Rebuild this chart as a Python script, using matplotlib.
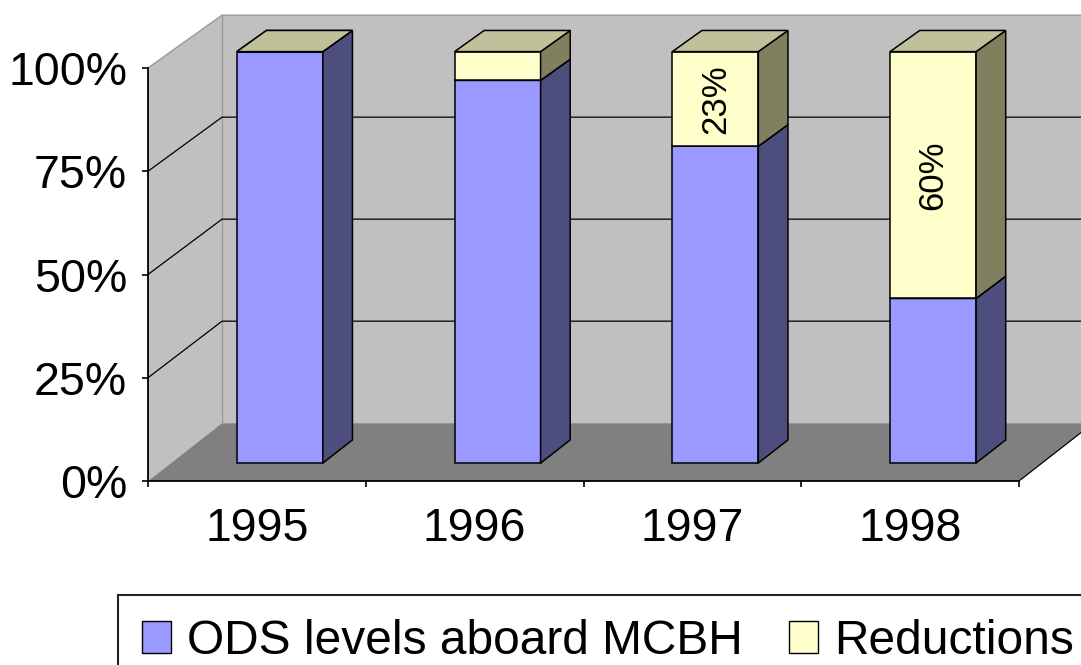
import matplotlib
matplotlib.use("Agg")
import matplotlib.pyplot as plt
from matplotlib.patches import Patch

# ---- data -------------------------------------------------------------
years = ["1995", "1996", "1997", "1998"]
ods_levels = [100, 93, 77, 40]
reductions = [0, 7, 23, 60]
series_names = ["ODS levels aboard MCBH", "Reductions"]
ytick_values = [0, 25, 50, 75, 100]
ytick_labels = ["0%", "25%", "50%", "75%", "100%"]

# ---- styling ----------------------------------------------------------
plt.rcParams["font.family"] = ["Liberation Sans", "DejaVu Sans"]

# (front, side, top) shades for each series
ods_colors = ("#9999FF", "#4D4D7E", "#7A7ACC")
red_colors = ("#FFFFCC", "#80805F", "#C0C09B")
WALL = "#C0C0C0"
FLOOR = "#808080"
WALL_EDGE = "#9A9A9A"

W, H = 1081, 665
fig = plt.figure(figsize=(W / 100, H / 100), dpi=100)
fig.patch.set_facecolor("white")

# front plane of the 3-D box
ax = fig.add_axes([148 / W, (H - 481) / H, (1019 - 148) / W, (481 - 68) / H])
ax.set_xlim(-0.5, 3.5)
ax.set_ylim(0, 100)
ax.patch.set_visible(False)

# oblique projection: depth d in [0, 1] shifts right / up
DX, DY, SHRINK = 0.34, 14.0, 0.012
BAR_W = 0.395
D0, D1 = 0.31, 0.71


def proj(x, v, d):
    return x + d * DX, v * (1 - SHRINK * d) + d * DY


def face(pts, fc, ec="none", lw=0.0, z=1):
    ax.fill([p[0] for p in pts], [p[1] for p in pts], facecolor=fc,
            edgecolor=ec, linewidth=lw, zorder=z, clip_on=False)


def line(pts, color="black", lw=0.9, z=1.5):
    ax.plot([p[0] for p in pts], [p[1] for p in pts], color=color,
            linewidth=lw, zorder=z, clip_on=False, solid_capstyle="butt")


x0, x1 = -0.5, 3.5
ymax = ytick_values[-1]

# walls and floor
face([proj(x0, 0, 0), proj(x0, ymax, 0), proj(x0, ymax, 1), proj(x0, 0, 1)], WALL)
face([proj(x0, 0, 1), proj(x0, ymax, 1), proj(x1, ymax, 1), proj(x1, 0, 1)], WALL)
face([proj(x0, 0, 0), proj(x1, 0, 0), proj(x1, 0, 1), proj(x0, 0, 1)], FLOOR)

# wall outlines
line([proj(x0, ymax, 0), proj(x0, ymax, 1), proj(x1, ymax, 1)], WALL_EDGE, 1.0)
line([proj(x0, 0, 1), proj(x0, ymax, 1)], WALL_EDGE, 1.0)
line([proj(x1, 0, 0), proj(x1, 0, 1)], "black", 0.9)

# gridlines on side and back walls
for v in ytick_values[1:-1]:
    line([proj(x0, v, 0), proj(x0, v, 1), proj(x1, v, 1)], "black", 0.9)

# stacked 3-D bars
for i in range(len(years)):
    lo = 0
    for val, (fc, sc, tc) in ((ods_levels[i], ods_colors),
                              (reductions[i], red_colors)):
        hi = lo + val
        xl, xr = i - BAR_W / 2, i + BAR_W / 2
        face([proj(xl, lo, D0), proj(xr, lo, D0), proj(xr, hi, D0), proj(xl, hi, D0)],
             fc, "black", 1.1, 3)
        face([proj(xr, lo, D0), proj(xr, lo, D1), proj(xr, hi, D1), proj(xr, hi, D0)],
             sc, "black", 1.1, 3)
        face([proj(xl, hi, D0), proj(xr, hi, D0), proj(xr, hi, D1), proj(xl, hi, D1)],
             tc, "black", 1.1, 3)
        lo = hi

# value labels on the reduction segments tall enough to hold them
for i, (base, red) in enumerate(zip(ods_levels, reductions)):
    if red >= 10:
        tx, ty = proj(i, base + red / 2, D0)
        ax.text(tx, ty, f"{red}%", rotation=90, ha="center", va="center",
                fontsize=25, color="black", zorder=4)

# axes
for side in ("top", "right"):
    ax.spines[side].set_visible(False)
for side in ("left", "bottom"):
    ax.spines[side].set_linewidth(1.3)
    ax.spines[side].set_color("black")
    ax.spines[side].set_zorder(5)

ax.set_yticks(ytick_values, ytick_labels)
ax.tick_params(axis="y", direction="out", length=4, width=1.2, pad=11,
               labelsize=33.5, colors="black")
ax.set_xticks([x0 + k for k in range(len(years) + 1)], [""] * (len(years) + 1))
ax.tick_params(axis="x", which="major", direction="out", length=4.5, width=1.2)
ax.set_xticks(range(len(years)), years, minor=True)
ax.tick_params(axis="x", which="minor", length=0, pad=19, labelsize=33.5)

# legend
handles = [Patch(facecolor=ods_colors[0], edgecolor="black", linewidth=1.0),
           Patch(facecolor=red_colors[0], edgecolor="black", linewidth=1.0)]
leg = fig.legend(handles, series_names, loc="upper left",
                 bbox_to_anchor=(118 / W, 1 - 595 / H),
                 bbox_transform=fig.transFigure, ncol=2, fontsize=34.5,
                 frameon=True, fancybox=False, framealpha=1,
                 edgecolor="#222222", borderaxespad=0, borderpad=0.5,
                 handlelength=0.6, handleheight=0.65, handletextpad=0.35,
                 columnspacing=0.95)
leg.get_frame().set_linewidth(1.5)

fig.savefig("out.png", dpi=100)
